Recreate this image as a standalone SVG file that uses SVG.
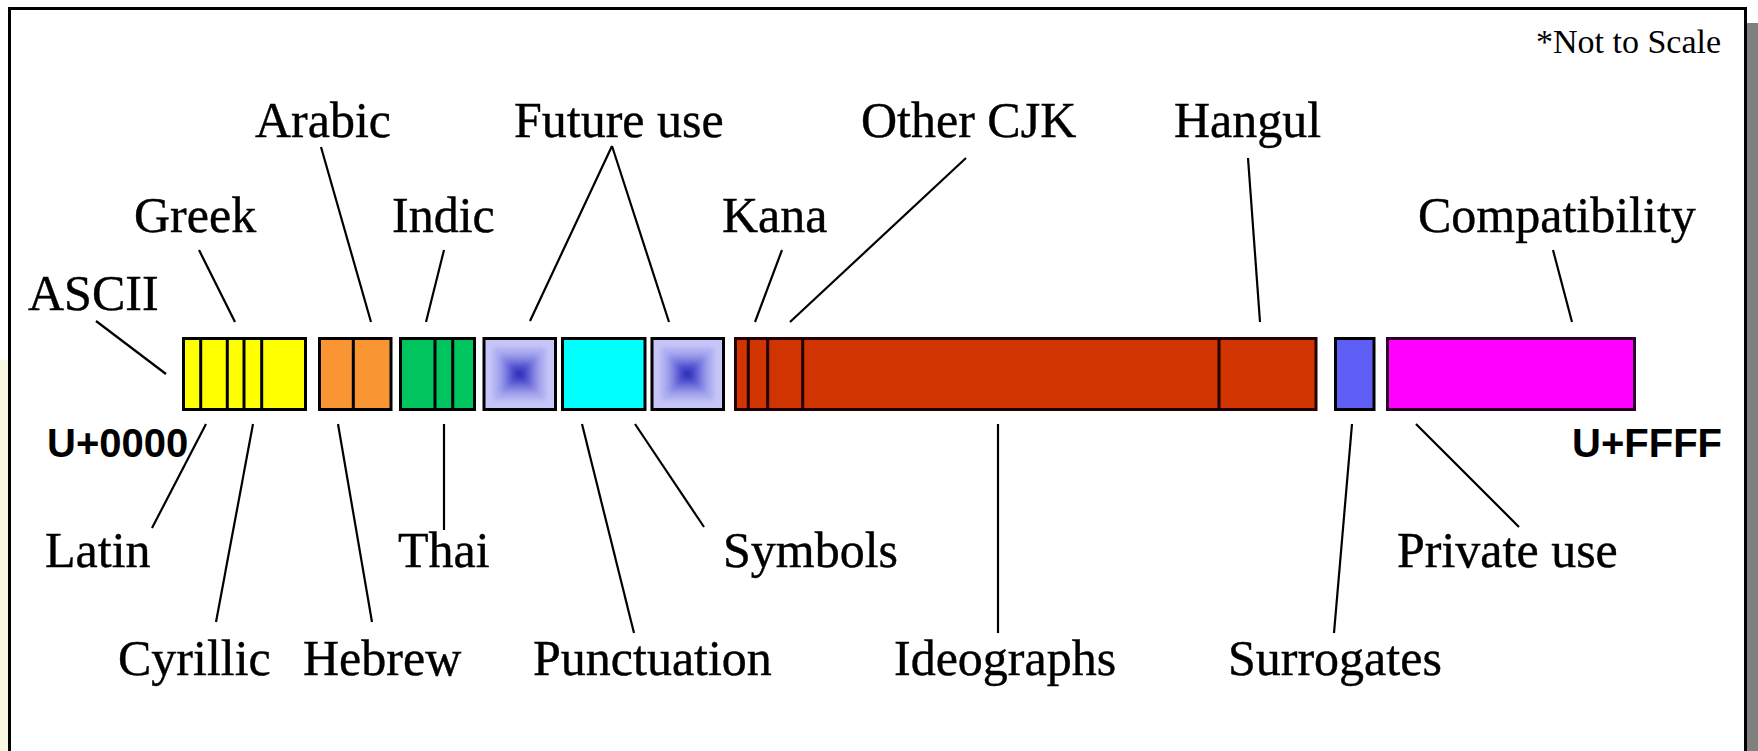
<svg xmlns="http://www.w3.org/2000/svg" width="1758" height="751" viewBox="0 0 1758 751">
<defs>
<style>
.lbl{font-family:"Liberation Serif","Times New Roman",serif;font-size:50px;fill:#000;stroke:#000;stroke-width:0.4}
.code{font-family:"Liberation Sans",Arial,sans-serif;font-size:40px;font-weight:bold;fill:#000}
.note{font-family:"Liberation Serif","Times New Roman",serif;font-size:34px;fill:#000}
.seg{stroke:#000;stroke-width:3}
.div{stroke:#000;stroke-width:3;fill:none}
.con line{stroke:#000;stroke-width:2.2}
</style>
<filter id="soft" x="-20%" y="-20%" width="140%" height="140%"><feGaussianBlur stdDeviation="2.5"/></filter>
<g id="sq">
<rect x="-34.5" y="-34" width="69" height="68" fill="#c6c6f8"/>
<g filter="url(#soft)">
<rect x="-26" y="-26" width="52" height="52" fill="#acacf0"/>
<rect x="-19" y="-19" width="38" height="38" fill="#8a8ae6"/>
<rect x="-13" y="-13" width="26" height="26" fill="#6464d8"/>
<rect x="-8" y="-8" width="16" height="16" fill="#4444c8"/>
<rect x="-3.5" y="-3.5" width="7" height="7" fill="#2a2ab4"/>
</g>
</g>
</defs>
<rect width="1758" height="751" fill="#fff"/>
<rect x="0" y="360" width="8" height="391" fill="#f8f8e2"/>
<rect x="1747" y="23" width="11" height="728" fill="#808080"/>
<path d="M9.5,751 V8.5 H1745.5 V751" fill="none" stroke="#000" stroke-width="3"/>

<g id="note"><text class="note" x="1536" y="53">*Not to Scale</text></g>

<g id="seg-yellow">
<rect class="seg" x="183.5" y="338.5" width="122" height="71" fill="#ffff00"/>
<path class="div" d="M200.7,338.5V409.5M227.3,338.5V409.5M244,338.5V409.5M261.7,338.5V409.5"/>
</g>
<g id="seg-orange">
<rect class="seg" x="319.5" y="338.5" width="71.5" height="71" fill="#f99533"/>
<path class="div" d="M353.3,338.5V409.5"/>
</g>
<g id="seg-green">
<rect class="seg" x="400.5" y="338.5" width="74" height="71" fill="#00c45e"/>
<path class="div" d="M435,338.5V409.5M452.7,338.5V409.5"/>
</g>
<g id="seg-future1">
<use href="#sq" x="519.5" y="374"/>
<rect x="484" y="338.5" width="71.5" height="71" fill="none" stroke="#000" stroke-width="3"/>
</g>
<g id="seg-cyan">
<rect class="seg" x="562.5" y="338.5" width="82.5" height="71" fill="#00ffff"/>
</g>
<g id="seg-future2">
<use href="#sq" x="687.5" y="374"/>
<rect x="652" y="338.5" width="71.5" height="71" fill="none" stroke="#000" stroke-width="3"/>
</g>
<g id="seg-cjk">
<rect x="735.5" y="338.5" width="580.5" height="71" fill="#d03400" stroke="#200000" stroke-width="3"/>
<path d="M748.3,338.5V409.5M767.7,338.5V409.5M802.7,338.5V409.5M1219,338.5V409.5" fill="none" stroke="#200000" stroke-width="3"/>
</g>
<g id="seg-surrogates">
<rect class="seg" x="1335.5" y="338.5" width="38.5" height="71" fill="#5e5ef4"/>
</g>
<g id="seg-private">
<rect x="1387.5" y="338.5" width="247" height="71" fill="#ff00ff" stroke="#2a002a" stroke-width="3"/>
</g>

<g id="label-u0000"><text class="code" x="47" y="457">U+0000</text></g>
<g id="label-uffff"><text class="code" x="1722" y="457" text-anchor="end">U+FFFF</text></g>

<g id="label-ascii"><text class="lbl" x="28" y="310">ASCII</text></g>
<g id="label-greek"><text class="lbl" x="134" y="232">Greek</text></g>
<g id="label-arabic"><text class="lbl" x="255" y="137">Arabic</text></g>
<g id="label-indic"><text class="lbl" x="392" y="232">Indic</text></g>
<g id="label-future"><text class="lbl" x="514" y="137">Future use</text></g>
<g id="label-kana"><text class="lbl" x="722" y="232">Kana</text></g>
<g id="label-othercjk"><text class="lbl" x="861" y="137">Other CJK</text></g>
<g id="label-hangul"><text class="lbl" x="1174" y="137">Hangul</text></g>
<g id="label-compat"><text class="lbl" x="1418" y="232">Compatibility</text></g>
<g id="label-latin"><text class="lbl" x="45" y="567">Latin</text></g>
<g id="label-thai"><text class="lbl" x="398" y="567">Thai</text></g>
<g id="label-symbols"><text class="lbl" x="723" y="567">Symbols</text></g>
<g id="label-private"><text class="lbl" x="1397" y="567">Private use</text></g>
<g id="label-cyrillic"><text class="lbl" x="118" y="675">Cyrillic</text></g>
<g id="label-hebrew"><text class="lbl" x="303" y="675">Hebrew</text></g>
<g id="label-punct"><text class="lbl" x="533" y="675">Punctuation</text></g>
<g id="label-ideo"><text class="lbl" x="894" y="675">Ideographs</text></g>
<g id="label-surr"><text class="lbl" x="1228" y="675">Surrogates</text></g>

<g id="connectors" class="con">
<line x1="96" y1="321" x2="166" y2="374"/>
<line x1="199" y1="250" x2="235" y2="322"/>
<line x1="321" y1="147" x2="371" y2="322"/>
<line x1="444" y1="250" x2="426" y2="322"/>
<line x1="612" y1="146" x2="530" y2="321"/>
<line x1="612" y1="146" x2="669" y2="322"/>
<line x1="782" y1="250" x2="755" y2="322"/>
<line x1="966" y1="158" x2="790" y2="322"/>
<line x1="1248" y1="158" x2="1260" y2="322"/>
<line x1="1553" y1="250" x2="1572" y2="322"/>
<line x1="206" y1="424" x2="152" y2="528"/>
<line x1="253" y1="424" x2="216" y2="622"/>
<line x1="338" y1="424" x2="372" y2="622"/>
<line x1="444" y1="424" x2="444" y2="530"/>
<line x1="582" y1="424" x2="634" y2="633"/>
<line x1="635" y1="424" x2="704" y2="527"/>
<line x1="998" y1="424" x2="998" y2="633"/>
<line x1="1352" y1="424" x2="1334" y2="633"/>
<line x1="1416" y1="424" x2="1519" y2="527"/>
</g>
</svg>
